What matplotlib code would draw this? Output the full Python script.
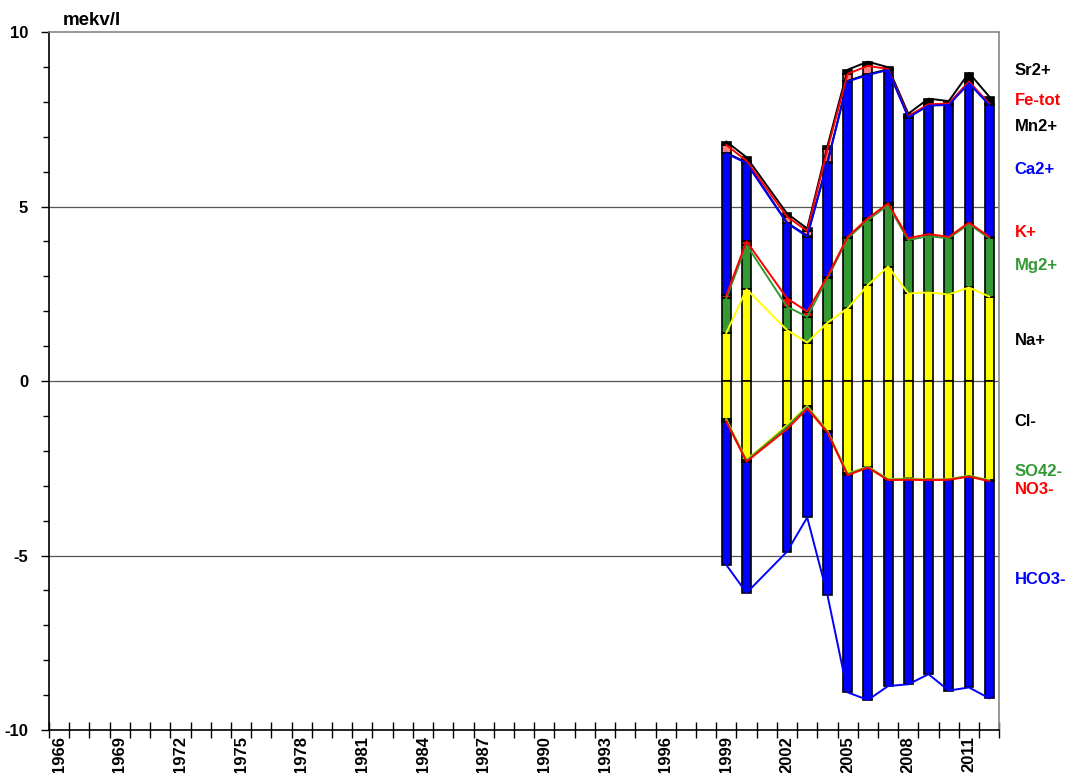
import matplotlib
matplotlib.use("Agg")
import matplotlib.pyplot as plt
import numpy as np

plt.rcParams['font.family'] = ['Liberation Sans', 'DejaVu Sans']
plt.rcParams['font.weight'] = 'bold'

# ---- data (mekv/l) ----
years = [1999, 2000, 2002, 2003, 2004, 2005, 2006, 2007, 2008, 2009, 2010, 2011, 2012]
# cations (stacked upward)
na = [1.38, 2.63, 1.46, 1.10, 1.67, 2.08, 2.75, 3.28, 2.51, 2.54, 2.48, 2.68, 2.42]
mg = [0.99, 1.27, 0.67, 0.74, 1.27, 2.01, 1.86, 1.76, 1.53, 1.61, 1.61, 1.82, 1.67]
k = [0.09, 0.10, 0.24, 0.15, 0.05, 0.04, 0.05, 0.05, 0.05, 0.06, 0.04, 0.04, 0.04]
ca = [4.06, 2.24, 2.15, 2.15, 3.26, 4.45, 4.11, 3.82, 3.46, 3.68, 3.78, 3.99, 3.78]
mn = [0.02, 0.02, 0.02, 0.02, 0.02, 0.02, 0.02, 0.02, 0.02, 0.02, 0.02, 0.02, 0.02]
fe = [0.22, 0.05, 0.17, 0.14, 0.37, 0.20, 0.24, 0.01, 0.02, 0.02, 0.02, 0.03, 0.02]
sr = [0.10, 0.10, 0.09, 0.07, 0.09, 0.12, 0.12, 0.05, 0.07, 0.16, 0.07, 0.25, 0.20]
# anions (stacked downward, magnitudes)
cl = [1.10, 2.26, 1.26, 0.72, 1.43, 2.65, 2.45, 2.81, 2.79, 2.82, 2.81, 2.71, 2.84]
so4 = [0.03, 0.02, 0.05, 0.03, 0.02, 0.02, 0.01, 0.01, 0.02, 0.01, 0.01, 0.01, 0.01]
no3 = [0.04, 0.03, 0.07, 0.04, 0.02, 0.03, 0.02, 0.02, 0.02, 0.01, 0.01, 0.02, 0.02]
hco3 = [4.10, 3.76, 3.51, 3.12, 4.66, 6.22, 6.66, 5.90, 5.86, 5.56, 6.04, 6.04, 6.22]

cation_names = ['Na+', 'Mg2+', 'K+', 'Ca2+', 'Mn2+', 'Fe-tot', 'Sr2+']
anion_names = ['Cl-', 'SO42-', 'NO3-', 'HCO3-']

year_min, year_max = 1966, 2013
tick_label_years = list(range(1966, 2012, 3))

# ---- styles ----
GREEN = '#339933'
cat_fill = ['#FFFF00', GREEN, '#FF0000', '#0000FF', '#000000', '#FF8080', '#000000']
cat_line = ['#FFFF00', GREEN, '#FF0000', '#0000FF', '#000000', '#FF0000', '#000000']
cat_line_z = [4.6, 4.5, 4.7, 4.4, 4.1, 4.3, 4.2]
an_fill = ['#FFFF00', GREEN, '#FF0000', '#0000FF']
an_line = ['#FFFF00', GREEN, '#FF0000', '#0000FF']
label_colors = {'Sr2+': 'black', 'Fe-tot': '#FF0000', 'Mn2+': 'black', 'Ca2+': '#0000FF',
                'K+': '#FF0000', 'Mg2+': GREEN, 'Na+': 'black', 'Cl-': 'black',
                'SO42-': GREEN, 'NO3-': '#FF0000', 'HCO3-': '#0000FF'}
label_y = {'Sr2+': 8.91, 'Fe-tot': 8.05, 'Mn2+': 7.29, 'Ca2+': 6.05, 'K+': 4.26,
           'Mg2+': 3.32, 'Na+': 1.15, 'Cl-': -1.17, 'SO42-': -2.58, 'NO3-': -3.12,
           'HCO3-': -5.70}
FS = 12

fig = plt.figure(figsize=(10.69, 7.73), dpi=100)
ax = fig.add_axes([0.0458, 0.0556, 0.889, 0.903])

x = np.array(years) + 0.5
bw = 0.44

# cations
bottom = np.zeros(len(years))
cat_series = [na, mg, k, ca, mn, fe, sr]
cat_tops = []
for vals, col in zip(cat_series, cat_fill):
    v = np.array(vals)
    ax.bar(x, v, bw, bottom=bottom, color=col, edgecolor='black', linewidth=1.2, zorder=3)
    bottom = bottom + v
    cat_tops.append(bottom.copy())

# anions
bottom = np.zeros(len(years))
an_series = [cl, so4, no3, hco3]
an_tops = []
for vals, col in zip(an_series, an_fill):
    v = -np.array(vals)
    ax.bar(x, v, bw, bottom=bottom, color=col, edgecolor='black', linewidth=1.2, zorder=3)
    bottom = bottom + v
    an_tops.append(bottom.copy())

for tops, col, z in zip(cat_tops, cat_line, cat_line_z):
    ax.plot(x, tops, color=col, lw=1.4, zorder=z)
for tops, col in zip(an_tops, an_line):
    ax.plot(x, tops, color=col, lw=1.4, zorder=4)

# grid lines
for yv in (-5, 0, 5):
    ax.axhline(yv, color='#555555', lw=0.9, zorder=1)

ax.set_xlim(year_min, year_max)
ax.set_ylim(-10, 10)

ax.set_yticks([-10, -5, 0, 5, 10])
ax.set_yticklabels(['-10', '-5', '0', '5', '10'], fontsize=FS, fontweight='bold')
ax.set_yticks(np.arange(-10, 11, 1), minor=True)
ax.tick_params(axis='y', which='major', direction='out', length=6, width=1, pad=9)
ax.tick_params(axis='y', which='minor', direction='out', length=4, width=1)

ax.set_xticks(np.arange(year_min, year_max + 1, 1))
ax.set_xticklabels([])
ax.tick_params(axis='x', which='major', direction='inout', length=12, width=1)
for yr in tick_label_years:
    ax.text(yr + 0.5, -0.009, str(yr), transform=ax.get_xaxis_transform(),
            rotation=90, ha='center', va='top', fontsize=FS, fontweight='bold')

for side in ('top', 'right'):
    ax.spines[side].set_color('#888888')
    ax.spines[side].set_linewidth(1.2)
for side in ('left', 'bottom'):
    ax.spines[side].set_color('black')
    ax.spines[side].set_linewidth(1.2)

ax.text(0.015, 1.004, 'mekv/l', transform=ax.transAxes, ha='left', va='bottom',
        fontsize=13.5, fontweight='bold')

for name in cation_names + anion_names:
    ax.text(1.016, label_y[name], name, transform=ax.get_yaxis_transform(),
            ha='left', va='center', fontsize=FS, fontweight='bold',
            color=label_colors[name], clip_on=False)

fig.savefig('out.png', dpi=100)
